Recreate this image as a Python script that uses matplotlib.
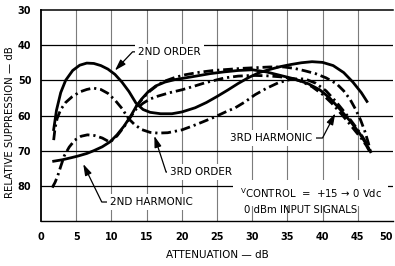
import matplotlib
matplotlib.use("Agg")
import matplotlib.pyplot as plt

# values (attenuation dB -> relative suppression dB)
x_2nd_order = [1.8, 2.2, 2.8, 3.5, 4.5, 5.5, 6.5, 7.5, 8.5, 9.5, 10.5, 11.5, 12.5, 13.5,
               14.5, 15.5, 17.0, 18.6, 20.0, 21.9, 23.5, 25.0, 26.5, 28.0, 29.5, 31.0,
               32.5, 34.0, 35.5, 37.0, 38.5, 40.0, 41.5, 43.0, 44.3, 45.5, 46.3]
y_2nd_order = [64.0, 58.5, 53.5, 50.0, 47.2, 45.7, 45.1, 45.2, 45.8, 46.8, 48.3, 50.5, 53.2, 56.5,
               58.3, 59.1, 59.5, 59.5, 59.0, 57.8, 56.3, 54.6, 52.8, 50.9, 49.2, 47.8,
               46.9, 46.1, 45.5, 45.0, 44.7, 44.9, 45.8, 47.8, 50.5, 53.5, 56.0]

x_2nd_harm = [1.8, 3.0, 4.3, 5.3, 6.5, 7.5, 8.7, 9.8, 10.8, 11.8, 12.7, 13.5, 14.3, 15.2,
              16.3, 17.6, 19.0, 20.5, 22.0, 24.0, 26.0, 28.0, 30.0, 32.0, 34.0, 36.0,
              38.0, 39.6, 41.0, 42.5, 44.0, 45.3, 46.3, 46.8]
y_2nd_harm = [73.0, 72.6, 72.0, 71.5, 70.8, 70.0, 68.9, 67.5, 65.5, 63.0, 60.3, 57.5, 55.3, 53.3,
              51.6, 50.5, 49.8, 49.3, 48.8, 48.1, 47.6, 47.2, 47.0, 47.6, 48.6, 49.6,
              51.0, 52.7, 55.0, 58.3, 61.8, 65.2, 68.5, 70.3]

x_3rd_order = [1.8, 2.0, 2.3, 2.8, 3.5, 4.4, 5.5, 6.5, 7.4, 8.5, 9.5, 10.5, 11.5, 12.4,
               13.3, 14.3, 15.5, 16.6, 18.0, 20.0, 21.5, 23.0, 24.7, 26.2, 27.6, 29.0,
               30.4, 32.0, 33.7, 35.7, 37.5, 39.0, 40.5, 42.0, 43.3, 44.5, 45.5, 46.2, 46.7]
y_3rd_order = [67.0, 63.5, 60.8, 58.3, 56.3, 54.7, 53.3, 52.6, 52.2, 52.6, 53.7, 55.6, 58.0, 60.8,
               62.6, 64.0, 64.8, 65.0, 64.9, 64.1, 63.0, 61.8, 60.4, 59.0, 57.8, 56.1,
               54.1, 52.3, 50.7, 49.6, 49.6, 50.8, 53.0, 56.3, 59.5, 62.7, 65.5, 67.8, 70.3]

x_3rd_harm = [1.6, 2.0, 2.4, 2.8, 3.3, 4.0, 4.8, 5.7, 6.6, 7.6, 8.7, 9.8, 10.8, 11.8,
              12.7, 13.5, 14.5, 15.5, 16.6, 18.3, 20.0, 21.7, 23.3, 24.7, 26.1, 28.0,
              30.0, 32.0, 34.0, 35.5, 37.0, 38.5, 40.0, 41.3, 42.5, 43.6, 44.6, 45.5, 46.2, 46.7]
y_3rd_harm = [80.5, 79.0, 77.0, 74.5, 71.5, 69.0, 67.0, 65.9, 65.5, 65.7, 66.4, 67.6, 65.8, 63.2,
              60.5, 58.2, 56.5, 55.3, 54.5, 53.5, 52.7, 51.7, 50.7, 50.0, 49.3, 48.8,
              48.6, 48.7, 49.0, 49.4, 50.3, 51.8, 54.0, 56.5, 59.2, 61.8, 64.3, 66.5, 68.5, 70.3]

x_upper = [13.5, 14.5, 15.5, 16.6, 17.6, 19.0, 20.5, 22.5, 24.5, 26.5, 28.5, 30.5, 32.5,
           34.5, 36.0, 37.5, 39.0, 40.5, 42.0, 43.0, 43.9, 44.7, 45.4, 46.0, 46.5, 46.8]
y_upper = [57.5, 55.0, 53.0, 51.3, 50.2, 49.2, 48.4, 47.7, 47.2, 46.9, 46.6, 46.4, 46.2,
           46.2, 46.6, 47.3, 48.1, 49.3, 51.0, 53.0, 55.4, 58.3, 61.3, 64.5, 67.8, 70.3]

x_ticks = [0, 5, 10, 15, 20, 25, 30, 35, 40, 45, 50]
y_ticks = [30, 40, 50, 60, 70, 80]

FONT = ["DejaVu Sans"]
DASHDOT = (0, (3.5, 1.4, 0.8, 1.4))

fig = plt.figure(figsize=(3.95, 2.66), dpi=100)
ax = fig.add_axes([41 / 395, 45 / 266, 352 / 395, 211 / 266])
ax.set_xlim(0, 50)
ax.set_ylim(90, 30)

for v in x_ticks[1:-1]:
    ax.axvline(v, color="#7c7c7c", lw=0.8, zorder=1)
for v in y_ticks[1:]:
    ax.axhline(v, color="black", lw=0.9, zorder=1)

ax.spines["right"].set_visible(False)
ax.spines["left"].set_linewidth(1.3)
ax.spines["top"].set_linewidth(1.1)
ax.spines["bottom"].set_linewidth(1.0)

ax.set_xticks(x_ticks)
ax.set_yticks(y_ticks)
ax.tick_params(length=0, labelsize=7)
ax.tick_params(axis="x", pad=8)
ax.tick_params(axis="y", pad=7)
for lab in ax.get_xticklabels() + ax.get_yticklabels():
    lab.set_family(FONT)
    lab.set_fontweight("bold")
ax.get_xticklabels()[-1].set_ha("right")
ax.get_xticklabels()[-1].set_x(50)

lw = 2.0
ax.plot(x_2nd_order, y_2nd_order, color="black", lw=lw, zorder=3)
ax.plot(x_2nd_harm, y_2nd_harm, color="black", lw=lw, zorder=3)
ax.plot(x_3rd_order, y_3rd_order, color="black", lw=lw, ls=DASHDOT, zorder=3)
ax.plot(x_3rd_harm, y_3rd_harm, color="black", lw=lw, ls=DASHDOT, zorder=3)
ax.plot(x_upper, y_upper, color="black", lw=lw, ls=DASHDOT, zorder=3)

ax.set_xlabel("ATTENUATION \u2014 dB", family=FONT, fontsize=7.5, labelpad=6)
ax.set_ylabel("RELATIVE SUPPRESSION \u2014 dB", family=FONT, fontsize=7.3)
ax.yaxis.set_label_coords(-0.075, 0.47)


def label(text, xy, xytext, angle, ha="left"):
    ax.annotate(
        text, xy=xy, xytext=xytext, ha=ha, va="center",
        family=FONT, fontsize=7.5, zorder=5,
        bbox=dict(boxstyle="square,pad=0.3", fc="white", ec="none"),
        arrowprops=dict(
            arrowstyle="-|>,head_length=0.9,head_width=0.28",
            color="black", lw=0.9, shrinkA=0, shrinkB=0,
            relpos=(0, 0.5) if ha == "left" else (1, 0.5),
            connectionstyle=f"angle,angleA=0,angleB={angle},rad=0",
        ),
    )


label("2ND ORDER", (10.5, 47.2), (13.8, 41.9), 46.6)
label("2ND HARMONIC", (6.0, 73.8), (9.8, 84.6), 116)
label("3RD ORDER", (16.1, 65.8), (18.3, 76.1), 108)
label("3RD HARMONIC", (41.8, 59.4), (38.6, 66.4), 62.6, ha="right")

ax.text(28.2, 82.1, "$^{\\mathrm{V}}$CONTROL  =  +15 \u2192 0 Vdc", family=FONT,
        fontsize=7.3, va="center", ha="left", zorder=5,
        bbox=dict(boxstyle="square,pad=0.6", fc="white", ec="none"))
ax.text(28.9, 87.0, "0 dBm INPUT SIGNALS", family=FONT, fontsize=7.3,
        va="center", ha="left", zorder=5)

fig.savefig("out.png", dpi=100, facecolor="white")
